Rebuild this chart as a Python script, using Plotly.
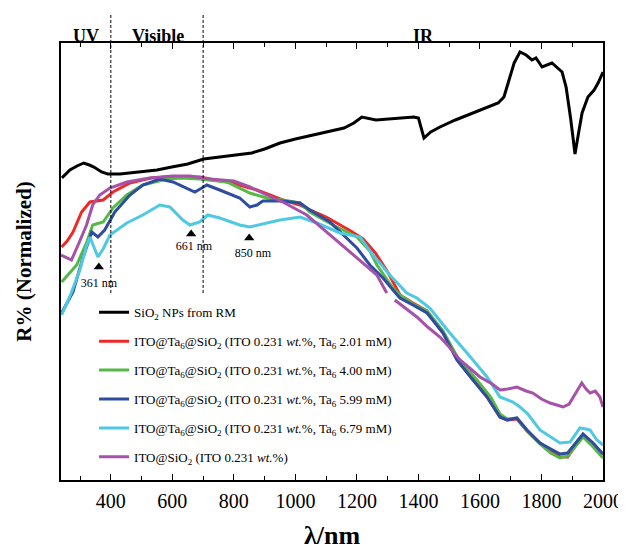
import plotly.graph_objects as go

# ---------------- data ----------------
sio2_wl = [241, 267, 290, 312, 330, 345, 370, 390, 430, 494, 550, 598, 650, 702, 760, 820, 858, 900,
           950, 1000, 1054, 1100, 1158, 1190, 1216, 1262, 1300, 1340, 1385, 1400, 1418, 1440, 1470,
           1520, 1561, 1620, 1659, 1678, 1695, 1711, 1730, 1750, 1769, 1782, 1802, 1834, 1867, 1880,
           1895, 1909, 1920, 1932, 1951, 1971, 1984, 2000]
sio2_r = [301, 309, 313, 316, 314, 312, 307, 305, 305, 307, 309, 312, 315, 320, 322, 324, 326, 330,
          336, 340, 344, 347, 351, 356, 362, 359, 360, 361, 362, 361, 341, 347, 352,
          359, 364, 371, 376, 382, 400, 416, 427, 424, 419, 421, 412, 416, 407, 392,
          360, 325, 345, 366, 382, 389, 396, 407]

red_wl = [240, 258, 277, 305, 332, 350, 375, 407, 462, 530, 582, 640, 689, 740, 797,
          840, 875, 917, 959, 1015, 1047, 1100, 1145, 1180, 1220, 1260, 1300, 1340, 1382, 1428, 1480,
          1525, 1577, 1623, 1665, 1688, 1720, 1753, 1795, 1830, 1860, 1885, 1903, 1935, 1968, 2000]
red_r = [232, 238, 247, 267, 277, 278, 279, 287, 296, 301, 302, 302, 302, 299, 296,
         292, 289, 284, 279, 274, 269, 262, 254, 248, 240, 226, 207, 184, 176, 168, 146,
         120, 100, 82, 62, 59, 60, 48, 36, 28, 22, 22, 30, 44, 33, 25]

green_wl = [240, 289, 322, 341, 375, 407, 452, 504, 582, 630, 689, 777, 852, 907, 959,
            1015, 1047, 1122, 1200, 1242, 1265, 1317, 1340, 1382, 1428, 1480, 1530, 1590, 1635, 1665,
            1688, 1720, 1753, 1795, 1830, 1860, 1885, 1903, 1935, 1968, 2000]
green_r = [197, 214, 237, 254, 257, 271, 284, 294, 300, 301, 300, 297, 286, 281, 279,
           276, 267, 254, 242, 228, 214, 191, 184, 175, 168, 148, 120, 99, 82, 65,
           60, 61, 48, 35, 26, 21, 23, 30, 42, 32, 21]

blue_wl = [240, 277, 309, 338, 358, 380, 413, 462, 504, 559, 602, 647, 673, 696, 712,
           754, 819, 852, 875, 894, 959, 1015, 1047, 1112, 1155, 1200, 1242, 1285, 1320,
           1340, 1382, 1428, 1480, 1525, 1577, 1623, 1665, 1688, 1720, 1753, 1795, 1830, 1860, 1885,
           1903, 1935, 1968, 2000]
blue_r = [166, 187, 221, 247, 242, 249, 267, 284, 294, 300, 297, 291, 287, 291, 294,
          289, 281, 272, 274, 278, 278, 276, 269, 257, 244, 231, 214, 201, 188,
          181, 174, 166, 146, 119, 99, 82, 62, 59, 61, 49, 36, 30, 25, 26,
          33, 45, 36, 25]

cyan_wl = [240, 270, 299, 320, 332, 345, 358, 375, 397, 452, 504, 559, 592, 634, 657, 689,
           715, 754, 819, 852, 907, 950, 1015, 1070, 1145, 1210, 1252,
           1307, 1362, 1395, 1437, 1502, 1558, 1623, 1665, 1707, 1730, 1753, 1795, 1830,
           1860, 1893, 1925, 1945, 1958, 1980, 2000]
cyan_r = [164, 185, 209, 232, 242, 232, 222, 230, 244, 256, 264, 274, 272, 259, 254, 257,
          264, 261, 254, 252, 256, 259, 262, 256, 246, 242, 224,
          204, 186, 181, 171, 146, 126, 102, 82, 77, 72, 66, 49, 42,
          36, 37, 51, 50, 49, 39, 34]

purple_wl = [238, 272, 295, 321, 341, 364, 397, 452, 527, 600, 657, 722, 800, 852, 900, 959, 1037,
             1102, 1177, 1210, 1265, 1297, None, 1323, 1372, 1395, 1430, 1470, 1500, 1535,
             1570, 1600, 1640, 1665, 1690, 1720, 1750, 1772, 1800, 1828, 1850, 1870, 1890, 1903, 1920,
             1931, 1945, 1958, 1975, 1990, 2000]
purple_r = [224, 219, 235, 254, 274, 284, 291, 297, 301, 303, 303, 300, 298, 292, 285, 277, 264,
            247, 227, 219, 204, 186, None, 179, 167, 162, 152, 142, 132, 119,
            110, 102, 95, 89, 90, 92, 88, 86, 80, 76, 74, 72, 75, 82, 90,
            96, 90, 86, 88, 82, 72]

series_names = [
    "SiO<sub>2</sub> NPs from RM",
    "ITO@Ta<sub>6</sub>@SiO<sub>2</sub> (ITO 0.231 <i>wt.</i>%, Ta<sub>6</sub> 2.01 mM)",
    "ITO@Ta<sub>6</sub>@SiO<sub>2</sub> (ITO 0.231 <i>wt.</i>%, Ta<sub>6</sub> 4.00 mM)",
    "ITO@Ta<sub>6</sub>@SiO<sub>2</sub> (ITO 0.231 <i>wt.</i>%, Ta<sub>6</sub> 5.99 mM)",
    "ITO@Ta<sub>6</sub>@SiO<sub>2</sub> (ITO 0.231 <i>wt.</i>%, Ta<sub>6</sub> 6.79 mM)",
    "ITO@SiO<sub>2</sub> (ITO 0.231 <i>wt.</i>%)",
]
series_colors = ["#000000", "#EE2A27", "#55B847", "#2F4DA0", "#4FC8E2", "#A552A8"]

peak_wl = [361, 661, 850]
peak_marker_r = [212, 245, 241]
peak_label_wl = [361, 670, 862]
peak_label_r = [195, 232, 225]
peak_labels = ["361 nm", "661 nm", "850 nm"]

region_bounds = [400, 700]
region_labels = ["UV", "Visible", "IR"]
region_label_wl = [319, 553, 1417]

x_tickvals = [400, 600, 800, 1000, 1200, 1400, 1600, 1800, 2000]

FONT = "Liberation Serif, Times New Roman, serif"

# ---------------- figure ----------------
fig = go.Figure()
all_x = [sio2_wl, red_wl, green_wl, blue_wl, cyan_wl, purple_wl]
all_y = [sio2_r, red_r, green_r, blue_r, cyan_r, purple_r]
for i in range(6):
    fig.add_trace(go.Scatter(
        x=all_x[i], y=all_y[i], mode="lines", name=series_names[i],
        line=dict(color=series_colors[i], width=3), legendgroup=f"g{i}",
        connectgaps=False, hoverinfo="skip"))

fig.add_trace(go.Scatter(
    x=peak_wl, y=peak_marker_r, mode="markers", showlegend=False, hoverinfo="skip",
    marker=dict(symbol="triangle-up", size=9, color="black")))
fig.add_trace(go.Scatter(
    x=peak_label_wl, y=peak_label_r, mode="text", text=peak_labels, showlegend=False,
    hoverinfo="skip", textfont=dict(family=FONT, size=12, color="black")))

for b in region_bounds:
    fig.add_shape(type="line", xref="x", yref="paper", x0=b, x1=b, y0=0.428, y1=1.069,
                  line=dict(color="black", width=1, dash="3px,2px"))

for lab, xw in zip(region_labels, region_label_wl):
    fig.add_annotation(x=xw, y=1.043, xref="x", yref="paper", text=f"<b>{lab}</b>",
                       showarrow=False, font=dict(family=FONT, size=18, color="black"))

# page has an 8px body margin, so the figure is 8px smaller and its margins shifted
fig.update_layout(
    width=618, height=542,
    margin=dict(l=53, r=23, t=35, b=70, autoexpand=False),
    paper_bgcolor="white", plot_bgcolor="white",
    font=dict(family=FONT, color="black"),
    showlegend=True,
    legend=dict(x=0.061, y=0.418, xanchor="left", yanchor="top",
                bgcolor="rgba(0,0,0,0)", font=dict(family=FONT, size=13, color="black"),
                tracegroupgap=9, itemwidth=30),
    xaxis=dict(range=[238, 2000], tickvals=x_tickvals, ticks="inside", ticklen=6, tickwidth=1.2,
               tickcolor="black", showline=True, linecolor="black", linewidth=1.5, mirror="ticks",
               showgrid=False, zeroline=False, tickfont=dict(family=FONT, size=20),
               automargin=False, ticklabelstandoff=2,
               minor=dict(dtick=100, tick0=0, ticks="inside", ticklen=4, tickcolor="black",
                          showgrid=False),
               title=dict(text="<b>λ/nm</b>", font=dict(family=FONT, size=26), standoff=26)),
    yaxis=dict(range=[-1, 436], showticklabels=False, ticks="", showline=True, linecolor="black",
               linewidth=1.5, mirror=True, showgrid=False, zeroline=False, automargin=False,
               title=dict(text="<b>R% (Normalized)</b>", font=dict(family=FONT, size=21),
                          standoff=22)),
)

fig.write_html("out.html")
